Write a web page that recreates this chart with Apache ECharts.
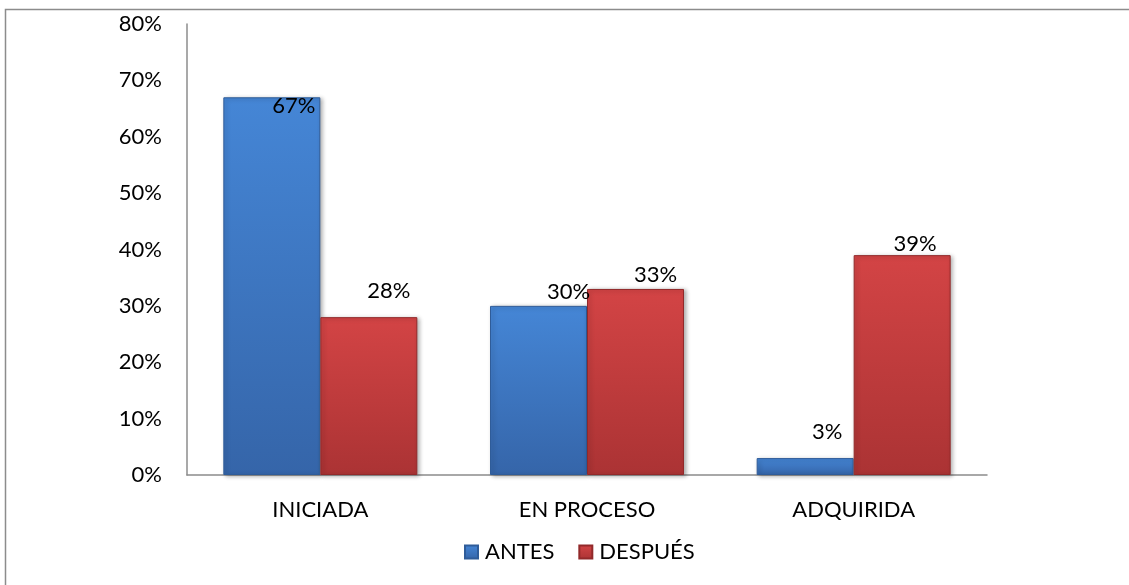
<!DOCTYPE html>
<html>
<head>
<meta charset="utf-8">
<script src="https://cdn.jsdelivr.net/npm/echarts@6/dist/echarts.min.js"></script>
<style>
  html, body { margin: 0; padding: 0; background: #fff; }
  #chart { width: 1129px; height: 585px; }
</style>
</head>
<body>
<div id="chart"></div>
<script>
// Categories and values (percent)
const categories = ['INICIADA', 'EN PROCESO', 'ADQUIRIDA'];
const antes = [67, 30, 3];
const despues = [28, 33, 39];
const seriesNames = ['ANTES', 'DESPUÉS'];
// label offsets [dx, dy] for each value label
const antesLabelOffsets = [[22, 25], [30, 2], [22, -10]];
const despuesLabelOffsets = [[20, -10], [20, 2], [13, 5]];

const FONT = 'Lato, "Open Sans", sans-serif';
const FS = 22;

// light top fading to a darker base, like a bevelled column
function barGradient(top, bottom) {
  return new echarts.graphic.LinearGradient(0, 0, 0, 1, [
    { offset: 0, color: top },
    { offset: 1, color: bottom }
  ]);
}
const blueFill = barGradient('#4586d6', '#3565a9');
const redFill = barGradient('#d34445', '#ab3334');

function withLabels(values, offsets) {
  return values.map((v, i) => ({
    value: v,
    label: { offset: offsets[i] }
  }));
}

const chart = echarts.init(document.getElementById('chart'), null, { renderer: 'canvas' });
chart.setOption({
  animation: false,
  backgroundColor: '#ffffff',
  graphic: [{
    type: 'rect',
    shape: { x: 5.5, y: 9.5, width: 1200, height: 700 },
    style: { fill: 'none', stroke: '#8c8c8c', lineWidth: 1.5 },
    silent: true
  }],
  grid: { left: 187, top: 24, width: 800, bottom: 110 },
  legend: {
    top: 536,
    left: 459,
    itemWidth: 13,
    itemHeight: 13,
    itemGap: 24,
    icon: 'rect',
    textStyle: { fontFamily: FONT, fontSize: FS, color: '#000', padding: [0, 0, 0, 2] },
    data: seriesNames
  },
  xAxis: {
    type: 'category',
    data: categories,
    axisLine: { lineStyle: { color: '#8c8c8c', width: 1.5 } },
    axisTick: { show: false },
    axisLabel: { fontFamily: FONT, fontSize: FS, color: '#000', margin: 24 }
  },
  yAxis: {
    type: 'value',
    min: 0,
    max: 80,
    interval: 10,
    axisLine: { show: true, lineStyle: { color: '#8c8c8c', width: 1.5 } },
    axisTick: { show: false },
    splitLine: { show: false },
    axisLabel: {
      fontFamily: FONT, fontSize: FS, color: '#000', margin: 25,
      formatter: '{value}%'
    }
  },
  series: [
    {
      name: seriesNames[0],
      type: 'bar',
      color: '#3e7dca',
      data: withLabels(antes, antesLabelOffsets),
      barWidth: 97,
      barGap: '0%',
      itemStyle: {
        color: blueFill,
        borderColor: '#2f5c99', borderWidth: 1,
        shadowBlur: 4, shadowOffsetX: 2, shadowOffsetY: 1,
        shadowColor: 'rgba(0,0,0,0.3)'
      },
      label: {
        show: true, position: 'top', formatter: '{c}%',
        fontFamily: FONT, fontSize: FS, color: '#000'
      }
    },
    {
      name: seriesNames[1],
      type: 'bar',
      color: '#c13b3c',
      data: withLabels(despues, despuesLabelOffsets),
      barWidth: 97,
      barGap: '0%',
      itemStyle: {
        color: redFill,
        borderColor: '#92292a', borderWidth: 1,
        shadowBlur: 4, shadowOffsetX: 2, shadowOffsetY: 1,
        shadowColor: 'rgba(0,0,0,0.3)'
      },
      label: {
        show: true, position: 'top', formatter: '{c}%',
        fontFamily: FONT, fontSize: FS, color: '#000'
      }
    }
  ]
});
</script>
</body>
</html>
